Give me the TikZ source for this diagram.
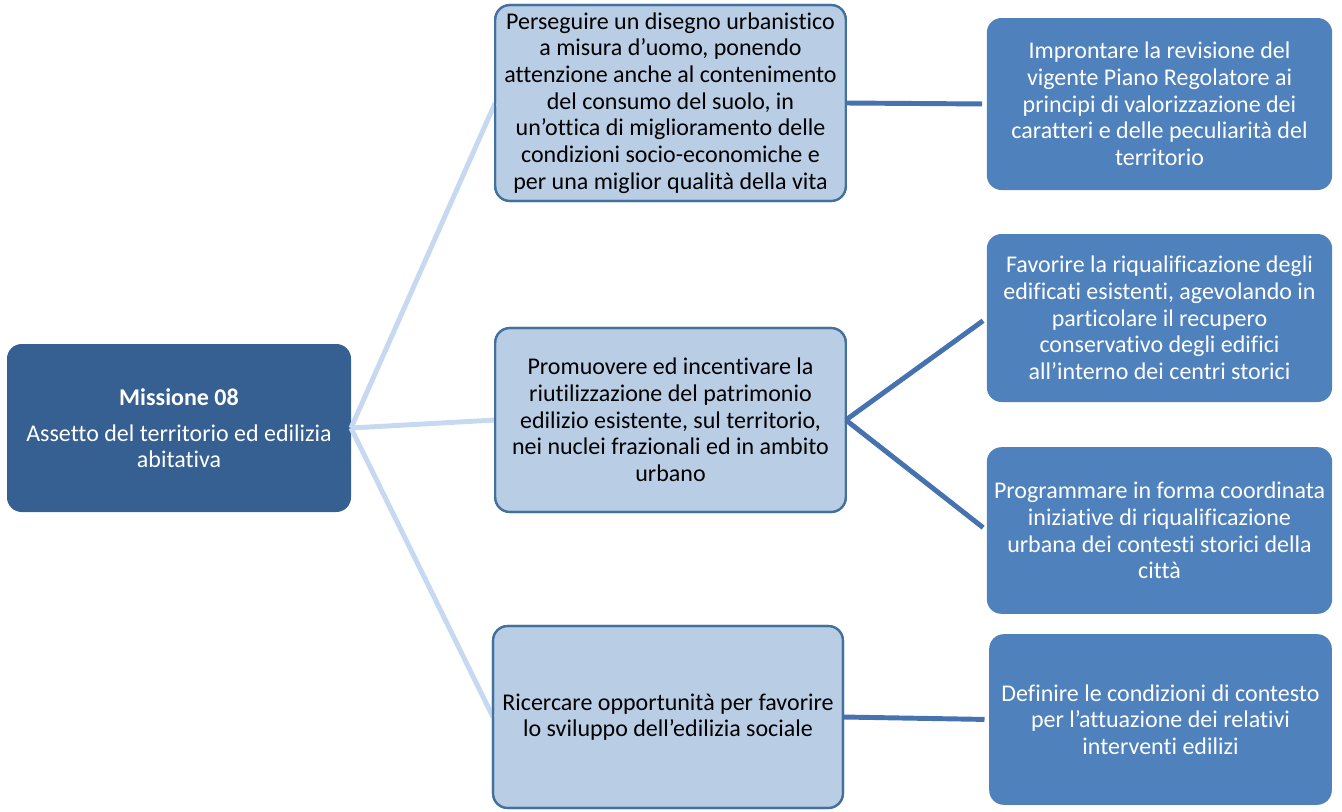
\documentclass[tikz,border=0pt]{standalone}
\usepackage{fontspec}
\setmainfont{Carlito}[Ligatures={NoCommon}]
\definecolor{darkbox}{HTML}{376092}
\definecolor{midfill}{HTML}{B9CDE5}
\definecolor{midline}{HTML}{41719C}
\definecolor{rightfill}{HTML}{4F81BD}
\definecolor{leftconn}{HTML}{C6D9F1}
\definecolor{rightconn}{HTML}{4672B0}
\begin{document}
\begin{tikzpicture}[x=0.75pt,y=-0.75pt,
  every node/.style={inner sep=0pt,outer sep=0pt,align=center,font=\fontsize{18}{20}\selectfont},
  rootbox/.style={fill=darkbox,rounded corners=11pt,text=white},
  midbox/.style={fill=midfill,draw=midline,line width=1.6pt,rounded corners=11pt,text=black},
  rightbox/.style={fill=rightfill,rounded corners=11pt,text=white},
  leftlink/.style={draw=leftconn,line width=3.7pt},
  rightlink/.style={draw=rightconn,line width=3.7pt,shorten >=3.5pt}]
\useasboundingbox (0,0) rectangle (1342,811);
% root
\node[rootbox,minimum width=258pt,minimum height=126pt] (m) at (179,428)
  {\textbf{Missione 08}\\[7pt]Assetto del territorio ed edilizia\\abitativa};
% middle
\node[midbox,minimum width=263pt,minimum height=147pt] (b1) at (670.5,103)
  {Perseguire un disegno urbanistico\\a misura d’uomo, ponendo\\attenzione anche al contenimento\\del consumo del suolo, in\\un’ottica di miglioramento delle\\condizioni socio-economiche e\\per una miglior qualità della vita};
\node[midbox,minimum width=263pt,minimum height=138pt] (b2) at (670.5,420)
  {Promuovere ed incentivare la\\riutilizzazione del patrimonio\\edilizio esistente, sul territorio,\\nei nuclei frazionali ed in ambito\\urbano};
\node[midbox,minimum width=262.5pt,minimum height=136.5pt] (b3) at (668,717)
  {Ricercare opportunità per favorire\\lo sviluppo dell’edilizia sociale};
% right
\node[rightbox,minimum width=259pt,minimum height=129pt] (c1) at (1159.5,104)
  {Improntare la revisione del\\vigente Piano Regolatore ai\\principi di valorizzazione dei\\caratteri e delle peculiarità del\\territorio};
\node[rightbox,minimum width=259pt,minimum height=126pt] (c2) at (1159.5,318)
  {Favorire la riqualificazione degli\\edificati esistenti, agevolando in\\particolare il recupero\\conservativo degli edifici\\all’interno dei centri storici};
\node[rightbox,minimum width=259pt,minimum height=125pt] (c3) at (1159.5,530.5)
  {Programmare in forma coordinata\\iniziative di riqualificazione\\urbana dei contesti storici della\\città};
\node[rightbox,minimum width=257pt,minimum height=128pt] (c4) at (1160.5,719.5)
  {Definire le condizioni di contesto\\per l’attuazione dei relativi\\interventi edilizi};
% connectors
\draw[leftlink] (m.east) -- (b1.west);
\draw[leftlink] (m.east) -- (b2.west);
\draw[leftlink] (m.east) -- (b3.west);
\draw[rightlink] (b1.east) -- (c1.west);
\draw[rightlink] (b2.east) -- (c2.west);
\draw[rightlink] (b2.east) -- (c3.west);
\draw[rightlink] (b3.east) -- (c4.west);
% redraw middle borders over link ends
\draw[draw=midline,line width=1.6pt,rounded corners=11pt] (b1.south west) rectangle (b1.north east);
\draw[draw=midline,line width=1.6pt,rounded corners=11pt] (b2.south west) rectangle (b2.north east);
\draw[draw=midline,line width=1.6pt,rounded corners=11pt] (b3.south west) rectangle (b3.north east);
\end{tikzpicture}
\end{document}
